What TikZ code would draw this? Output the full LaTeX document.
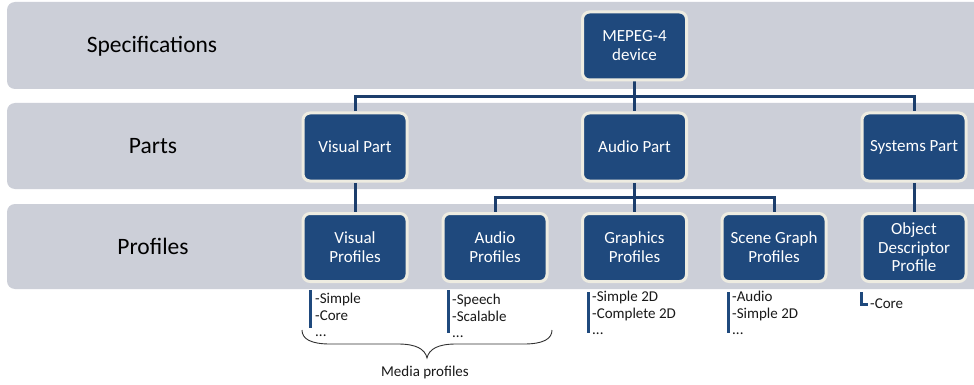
\documentclass[tikz,border=0pt]{standalone}
\usepackage{fontspec}
\setmainfont{Carlito}
\usetikzlibrary{backgrounds}
\definecolor{bandgray}{RGB}{204,207,216}
\definecolor{boxblue}{RGB}{31,73,125}
\definecolor{rim}{RGB}{238,236,225}
\definecolor{wireblue}{RGB}{28,62,108}
\begin{document}
\begin{tikzpicture}[x=1pt,y=-1pt,
  band/.style={fill=bandgray, rounded corners=8pt},
  unit/.style={draw=rim, line width=3pt, fill=boxblue, rounded corners=7pt,
    minimum width=104pt, minimum height=68pt, text=white, align=center,
    font=\fontsize{17}{19}\selectfont, inner sep=2pt},
  tier/.style={font=\fontsize{23.5}{27}\selectfont, text=black},
  wire/.style={draw=wireblue, line width=3pt},
  listbar/.style={draw=boxblue, line width=3pt},
  listtxt/.style={font=\fontsize{15}{16.5}\selectfont, align=left, inner sep=0pt, text=black!90}]
\useasboundingbox (0,0) rectangle (974,385);

% tier labels
\node[tier] (lspec) at (152,46) {Specifications};
\node[tier] (lpart) at (153,146) {Parts};
\node[tier] (lprof) at (153,246) {Profiles};

% boxes
\node[unit] (dev) at (634.5,46) {MEPEG-4\\device};
\node[unit] (vp) at (355,147) {Visual Part};
\node[unit] (ap) at (634.5,147) {Audio Part};
\node[unit] (sp) at (914,147) {Systems Part};
\node[unit] (vpr) at (355,247.5) {Visual\\Profiles};
\node[unit] (apr) at (495,247.5) {Audio\\Profiles};
\node[unit] (gpr) at (634.5,247.5) {Graphics\\Profiles};
\node[unit] (sgp) at (774,247.5) {Scene Graph\\Profiles};
\node[unit,font=\fontsize{17}{18.5}\selectfont] (odp) at (914,247.5) {Object\\Descriptor\\Profile};

\begin{scope}[on background layer]
  \fill[white] (0,0) rectangle (974,385);
  % tier bands, running off the right edge
  \path[band] (7,2) rectangle (1000,89);
  \path[band] (7,103) rectangle (1000,189);
  \path[band] (7,204) rectangle (1000,289);
  % connectors
  \coordinate (busA) at (634.5,97);
  \coordinate (busB) at (634.5,197);
  \draw[wire] (dev.south) -- (busA);
  \draw[wire] (vp.north) |- (busA) -| (sp.north);
  \draw[wire] (busA) -- (ap.north);
  \draw[wire] (vp.south) -- (vpr.north);
  \draw[wire] (sp.south) -- (odp.north);
  \draw[wire] (ap.south) -- (busB);
  \draw[wire] (apr.north) |- (busB) -| (sgp.north);
  \draw[wire] (busB) -- (gpr.north);
\end{scope}

% profile lists
\draw[listbar] (310,290) -- (310,328);
\node[listtxt, anchor=north west] (vlist) at (315,293) {-Simple\\-Core\\...};
\draw[listbar] (448,290) -- (448,333);
\node[listtxt, anchor=north west] (alist) at (452,294) {-Speech\\-Scalable\\...};
\draw[listbar] (588,292) -- (588,333);
\node[listtxt, anchor=north west] (glist) at (592,291) {-Simple 2D\\-Complete 2D\\...};
\draw[listbar] (728,292) -- (728,333);
\node[listtxt, anchor=north west] (slist) at (732,291) {-Audio\\-Simple 2D\\...};
\draw[listbar] (861,292) -- (861,304) -- (868,304);
\node[listtxt, anchor=west] (olist) at (870,304) {-Core};

% brace over the media profiles
\draw[black!80, line width=0.9pt]
  (302,330) .. controls (302,339) and (311,344) .. (330,344)
  -- (398,344) .. controls (416,344) and (425,349) .. (427,358)
  .. controls (429,349) and (438,344) .. (456,344)
  -- (524,344) .. controls (543,344) and (552,339) .. (552,330);
\node[listtxt] (media) at (425,372) {Media profiles};
\end{tikzpicture}
\end{document}
